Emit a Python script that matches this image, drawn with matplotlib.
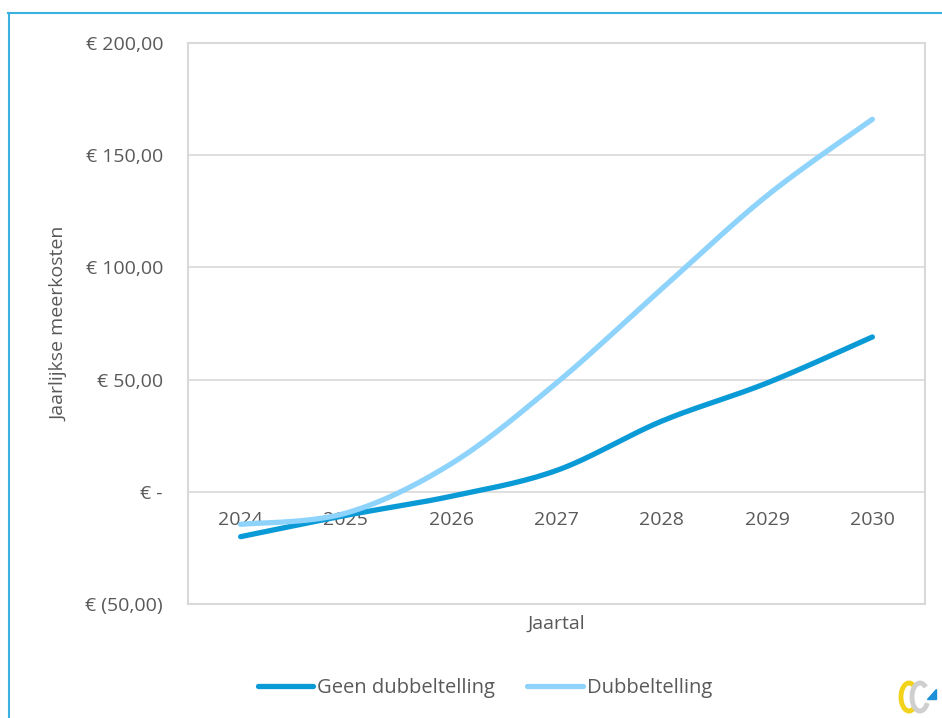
import numpy as np
import matplotlib.pyplot as plt
from matplotlib.lines import Line2D
from matplotlib.patches import Arc, Polygon

# data
jaren = ['2024', '2025', '2026', '2027', '2028', '2029', '2030']
geen_dubbel = [-20.0, -10.5, -2.0, 9.5, 31.5, 48.5, 69.0]
dubbel = [-14.5, -9.5, 12.5, 48.5, 90.5, 132.0, 166.0]
y_ticks = [-50, 0, 50, 100, 150, 200]
y_labels = ['€ (50,00)', '€ -', '€ 50,00', '€ 100,00', '€ 150,00', '€ 200,00']

donker = '#0A9AD6'
licht = '#8ED3FB'
tekst = '#595959'
grijs = '#D9D9D9'
fs = 14


def smooth(x, y, n=30):
    # Excel-style smoothed line (Catmull-Rom through the data points)
    x = np.asarray(x, float)
    y = np.asarray(y, float)
    px = np.concatenate([[x[0]], x, [x[-1]]])
    py = np.concatenate([[y[0]], y, [y[-1]]])
    xs, ys = [], []
    for i in range(1, len(px) - 2):
        t = np.linspace(0, 1, n)
        p0x, p1x, p2x, p3x = px[i - 1:i + 3]
        p0y, p1y, p2y, p3y = py[i - 1:i + 3]
        c1x, c1y = p1x + (p2x - p0x) / 6, p1y + (p2y - p0y) / 6
        c2x, c2y = p2x - (p3x - p1x) / 6, p2y - (p3y - p1y) / 6
        bx = (1 - t)**3 * p1x + 3 * (1 - t)**2 * t * c1x + 3 * (1 - t) * t**2 * c2x + t**3 * p2x
        by = (1 - t)**3 * p1y + 3 * (1 - t)**2 * t * c1y + 3 * (1 - t) * t**2 * c2y + t**3 * p2y
        xs.extend(bx)
        ys.extend(by)
    return np.array(xs), np.array(ys)


plt.rcParams['font.family'] = ['Open Sans', 'DejaVu Sans']
fig = plt.figure(figsize=(9.42, 7.18), dpi=100)
ax = fig.add_axes([188 / 942, 1 - 604 / 718, 737 / 942, 561 / 718])

x = np.arange(len(jaren))
sx, sy = smooth(x, geen_dubbel)
ax.plot(sx, sy, color=donker, lw=3.8, solid_capstyle='round', label='Geen dubbeltelling', zorder=3)
sx, sy = smooth(x, dubbel)
ax.plot(sx, sy, color=licht, lw=3.8, solid_capstyle='round', label='Dubbeltelling', zorder=3)

ax.set_xlim(-0.5, 6.5)
ax.set_ylim(-50, 200)
ax.set_yticks(y_ticks)
ax.set_yticklabels(y_labels, color=tekst, fontsize=fs)
ax.tick_params(axis='y', length=0, pad=18)
ax.set_xticks([])
for i, j in enumerate(jaren):
    ax.text(i, -8.5, j, ha='center', va='top', color=tekst, fontsize=fs, zorder=2)

ax.grid(axis='y', color=grijs, lw=1.2)
ax.set_axisbelow(True)
for s in ax.spines.values():
    s.set_color(grijs)
    s.set_linewidth(1.5)

ax.set_ylabel('Jaarlijkse meerkosten', color=tekst, fontsize=fs, labelpad=12)
ax.set_xlabel('Jaartal', color=tekst, fontsize=fs, labelpad=8)

fig.legend(loc='center', bbox_to_anchor=(485 / 942, 1 - 688 / 718), ncol=2, frameon=False,
           fontsize=14.5, labelcolor=tekst, handlelength=2.75, columnspacing=1.6, handletextpad=0.2)

# light-blue frame lines around the chart
fig.add_artist(Line2D([8 / 942, 1], [1 - 13 / 718, 1 - 13 / 718], color='#3CB1E0', lw=1.5))
fig.add_artist(Line2D([9 / 942, 9 / 942], [0, 1 - 13 / 718], color='#3CB1E0', lw=1.5))

# small logo bottom right (pixel coords of the figure)
lx = fig.add_axes([890 / 942, 0, 52 / 942, 48 / 718])
lx.set_xlim(890, 942)
lx.set_ylim(718, 670)
lx.axis('off')
lx.add_patch(Arc((909, 697), 16, 28, theta1=70, theta2=290, color='#F2D21B', lw=3.5))
lx.add_patch(Arc((920, 697), 16, 28, theta1=40, theta2=300, color='#CFCFCF', lw=3.5))
lx.add_patch(Polygon([[927, 699], [936, 699], [936, 689]], color='#1E90D8'))

fig.savefig('out.png', dpi=100)
